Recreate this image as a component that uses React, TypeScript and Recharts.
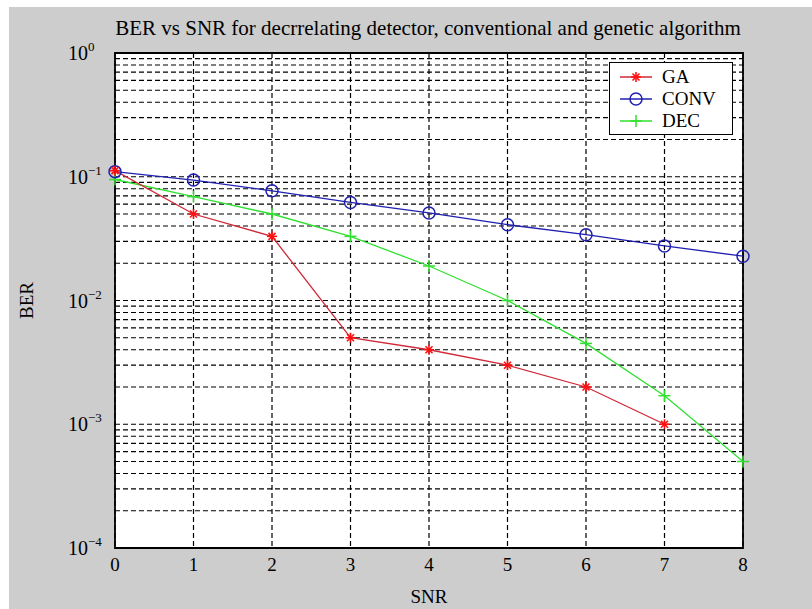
import { LineChart, Line, XAxis, YAxis, CartesianGrid, ReferenceArea, Label } from 'recharts'

const snr = [0, 1, 2, 3, 4, 5, 6, 7, 8]
const ga = [0.112, 0.05, 0.033, 0.005, 0.004, 0.003, 0.002, 0.001, null]
const conv = [0.11, 0.094, 0.077, 0.062, 0.051, 0.041, 0.034, 0.0276, 0.0228]
const dec = [0.095, 0.069, 0.05, 0.033, 0.019, 0.01, 0.0045, 0.0017, 0.0005]

const decades = [-4, -3, -2, -1]
const minorSteps = [1, 2, 3, 4, 5, 6, 7, 8, 9]
const yTicks = [...decades.flatMap((e) => minorSteps.map((m) => m * Math.pow(10, e))), 1]

const data = snr.map((s, i) => ({ snr: s, GA: ga[i], CONV: conv[i], DEC: dec[i] }))

const font = '"Liberation Serif", "DejaVu Serif", serif'

const YTick = (props: any) => {
  const { y, payload } = props
  const exp = Math.round(Math.log10(payload.value))
  if (Math.abs(Math.log10(payload.value) - exp) > 1e-6) return null
  return (
    <text x={68} y={y + 7} fontFamily={font} fontSize={20} fill="#000" textAnchor="start">
      10
      <tspan dy={-9} fontSize={13}>{exp === 0 ? '0' : '\u2212' + Math.abs(exp)}</tspan>
    </text>
  )
}

const Asterisk = (props: any) => {
  const { cx, cy, value } = props
  if (value == null || cx == null) return null
  const r = 5
  return (
    <g stroke="#ff1010" strokeWidth={1.6}>
      <line x1={cx - r} y1={cy} x2={cx + r} y2={cy} />
      <line x1={cx} y1={cy - r} x2={cx} y2={cy + r} />
      <line x1={cx - r * 0.7} y1={cy - r * 0.7} x2={cx + r * 0.7} y2={cy + r * 0.7} />
      <line x1={cx - r * 0.7} y1={cy + r * 0.7} x2={cx + r * 0.7} y2={cy - r * 0.7} />
    </g>
  )
}

const Circle = (props: any) => {
  const { cx, cy } = props
  if (cx == null) return null
  return <circle cx={cx} cy={cy} r={6} fill="none" stroke="#2020b0" strokeWidth={1.5} />
}

const Plus = (props: any) => {
  const { cx, cy } = props
  if (cx == null) return null
  const r = 6
  return (
    <g stroke="#30e030" strokeWidth={1.5}>
      <line x1={cx - r} y1={cy} x2={cx + r} y2={cy} />
      <line x1={cx} y1={cy - r} x2={cx} y2={cy + r} />
    </g>
  )
}

const legendItems = [
  { name: 'GA', color: '#d02838', Marker: Asterisk },
  { name: 'CONV', color: '#2020b0', Marker: Circle },
  { name: 'DEC', color: '#30e030', Marker: Plus },
]

const LegendBox = () => (
  <div
    style={{
      position: 'absolute', left: 609, top: 62, width: 124, height: 73,
      background: '#fff', border: '1.5px solid #000', boxSizing: 'border-box',
    }}
  >
    <svg width={121} height={70} style={{ display: 'block' }}>
      {legendItems.map((it, i) => {
        const cy = 14 + i * 22
        return (
          <g key={it.name}>
            <line x1={10} y1={cy} x2={42} y2={cy} stroke={it.color} strokeWidth={1.5} />
            <it.Marker cx={26} cy={cy} value={1} />
            <text x={52} y={cy + 6} fontFamily={font} fontSize={19} fill="#000">{it.name}</text>
          </g>
        )
      })}
    </svg>
  </div>
)

export default function App() {
  return (
    <div style={{ position: 'absolute', left: 0, top: 0, width: 812, height: 609, background: '#fff' }}>
      <div style={{ position: 'absolute', left: 9, top: 7, width: 803, height: 602, background: '#cdcdcd' }} />
      <div
        style={{
          position: 'absolute', left: 0, top: 16, width: 856, textAlign: 'center',
          fontFamily: font, fontSize: 21, color: '#000', whiteSpace: 'nowrap',
        }}
      >
        BER vs SNR for decrrelating detector, conventional and genetic algorithm
      </div>
      <div style={{ position: 'absolute', left: 0, top: 0 }}>
        <LineChart width={812} height={609} data={data} margin={{ top: 53, right: 69, left: 0, bottom: 0 }}>
          <CartesianGrid
            fill="#fff"
            stroke="#000"
            strokeDasharray="5 3"
            strokeWidth={1.2}
            horizontalValues={yTicks}
            verticalValues={snr}
          />
          <XAxis
            dataKey="snr"
            type="number"
            domain={[0, 8]}
            ticks={snr}
            height={61}
            axisLine={false}
            tickLine={false}
            tick={{ fontFamily: font, fontSize: 19, fill: '#000' }}
            tickMargin={4}
          >
            <Label value="SNR" position="insideBottom" offset={6} style={{ fontFamily: font, fontSize: 19, fill: '#000' }} />
          </XAxis>
          <YAxis
            scale="log"
            type="number"
            domain={[0.0001, 1]}
            allowDataOverflow
            ticks={yTicks}
            interval={0}
            width={115}
            axisLine={false}
            tickLine={false}
            tick={<YTick />}
          >
            <Label
              value="BER"
              angle={-90}
              position="insideLeft"
              offset={26}
              style={{ fontFamily: font, fontSize: 19, fill: '#000', textAnchor: 'middle' }}
            />
          </YAxis>
          <ReferenceArea x1={0} x2={8} y1={0.0001} y2={1} fill="none" stroke="#000" strokeWidth={1.8} />
          <Line dataKey="DEC" stroke="#30e030" strokeWidth={1.3} dot={<Plus />} isAnimationActive={false} />
          <Line dataKey="CONV" stroke="#2020b0" strokeWidth={1.3} dot={<Circle />} isAnimationActive={false} />
          <Line dataKey="GA" stroke="#d02838" strokeWidth={1.3} dot={<Asterisk />} isAnimationActive={false} connectNulls={false} />
        </LineChart>
      </div>
      <LegendBox />
    </div>
  )
}
